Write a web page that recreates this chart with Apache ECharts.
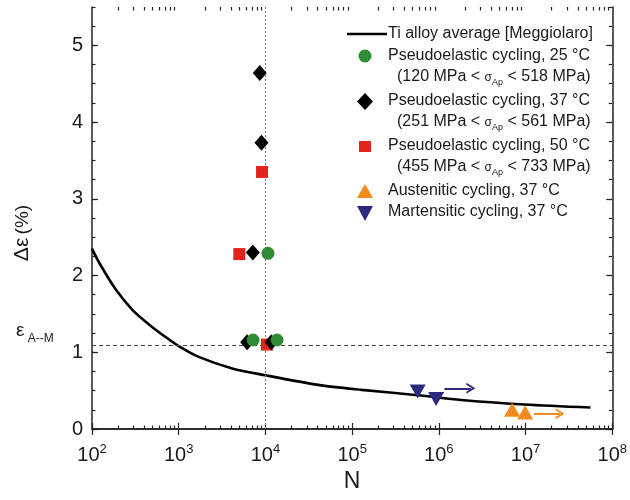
<!DOCTYPE html>
<html><head><meta charset="utf-8">
<script src="https://cdn.jsdelivr.net/npm/echarts@6/dist/echarts.min.js"></script>
<style>html,body{margin:0;padding:0;background:#fff}#c{width:630px;height:500px}</style>
</head><body><div id="c"></div>
<script>
// ---- data ----
const curveN = [100, 122, 190, 294, 457, 711, 1000, 1700, 4140, 10000, 40700, 129000, 575000, 1810000, 9660000, 56000000];
const curveY = [2.35, 2.16, 1.81, 1.55, 1.36, 1.196, 1.08, 0.94, 0.79, 0.70, 0.575, 0.51, 0.44, 0.378, 0.32, 0.28];

const pe25N = [10700, 7200, 13600];
const pe25Y = [2.29, 1.16, 1.16];
const pe37N = [8600, 9000, 7150, 6150, 11700];
const pe37Y = [4.64, 3.73, 2.30, 1.13, 1.13];
const pe50N = [9140, 5000, 10400];
const pe50Y = [3.35, 2.28, 1.10];
const austN = [7000000, 9900000];
const austY = [0.25, 0.215];
const martN = [570000, 930000];
const martY = [0.49, 0.39];

const martArrowN = [1160000, 2340000];
const martArrowY = 0.53;
const austArrowN = [12500000, 25000000];
const austArrowY = 0.20;

const refN = 10000;      // vertical dotted line
const refEps = 1.09;     // horizontal dashed line (eps A--M)

const xMajorExps = [2, 3, 4, 5, 6, 7, 8];
const xMinorMult = [2, 3, 4, 5, 6, 7, 8, 9];
const yTickLabels = [0, 1, 2, 3, 4, 5];

const legendTexts = [
  'Ti alloy average [Meggiolaro]',
  'Pseudoelastic cycling, 25 °C',
  '(120 MPa < {sg|σ}{sb|Ap} < 518 MPa)',
  'Pseudoelastic cycling, 37 °C',
  '(251 MPa < {sg|σ}{sb|Ap} < 561 MPa)',
  'Pseudoelastic cycling, 50 °C',
  '(455 MPa < {sg|σ}{sb|Ap} < 733 MPa)',
  'Austenitic cycling, 37 °C',
  'Martensitic cycling, 37 °C'
];

// ---- styles ----
const FONT = '"Liberation Sans", Arial, sans-serif';
const cGreen = '#2f8c35', cBlack = '#000000', cRed = '#e2231c', cOrange = '#f28a1d', cNavy = '#2b2a7c';
const axisCol = '#222';

const zip = (a, b) => a.map((v, i) => [v, b[i]]);
const minorTicks = [];
xMajorExps.slice(0, -1).forEach(e => xMinorMult.forEach(m => minorTicks.push(e + Math.log10(m))));

const chart = echarts.init(document.getElementById('c'), null, { renderer: 'canvas' });

const decoX = (pos, major, extra) => Object.assign({
  type: 'value', min: 2, max: 8, position: pos, gridIndex: 0,
  axisLine: { show: false },
  axisTick: major ? { show: true, inside: true, length: 6, lineStyle: { color: axisCol, width: 1.2 }, customValues: xMajorExps }
                  : { show: true, inside: true, length: 3.5, lineStyle: { color: axisCol, width: 1.2 }, customValues: minorTicks },
  axisLabel: { show: false },
  splitLine: { show: false }
}, extra || {});

const decoY = (pos, major, extra) => Object.assign({
  type: 'value', min: 0, max: 5.5, position: pos, gridIndex: 0,
  axisLine: { show: false },
  axisTick: major ? { show: true, inside: true, length: 6, lineStyle: { color: axisCol, width: 1.2 }, customValues: yTickLabels }
                  : { show: true, inside: true, length: 3.5, lineStyle: { color: axisCol, width: 1.2 } },
  interval: 0.25,
  axisLabel: { show: false },
  splitLine: { show: false }
}, extra || {});

const legendY = [34, 56, 77, 101, 122, 146, 167, 191, 212];
const legendX = [388, 388, 397, 388, 397, 388, 397, 388, 388];
const legendGraphics = [];
legendTexts.forEach((t, i) => {
  legendGraphics.push({
    type: 'text', x: legendX[i], y: legendY[i], z: 100,
    style: {
      text: t, fill: '#1a1a1a', fontSize: 16, fontFamily: FONT, verticalAlign: 'middle',
      rich: {
        sg: { fontSize: 12, fontFamily: FONT, fill: '#1a1a1a', padding: [2, 0, 0, 0] },
        sb: { fontSize: 9, fontFamily: FONT, fill: '#1a1a1a', padding: [12, 0, 0, 0] }
      }
    }
  });
});
legendGraphics.push(
  { type: 'line', z: 100, shape: { x1: 347, y1: 34, x2: 387, y2: 34 }, style: { stroke: '#000', lineWidth: 2.6 } },
  { type: 'circle', z: 100, shape: { cx: 365, cy: 56, r: 6.5 }, style: { fill: cGreen } },
  { type: 'polygon', z: 100, shape: { points: [[365, 93], [373, 101.5], [365, 110], [357, 101.5]] }, style: { fill: cBlack } },
  { type: 'rect', z: 100, shape: { x: 359, y: 141, width: 12, height: 11 }, style: { fill: cRed } },
  { type: 'polygon', z: 100, shape: { points: [[365, 184], [373, 198], [357, 198]] }, style: { fill: cOrange } },
  { type: 'polygon', z: 100, shape: { points: [[357, 206], [373, 206], [365, 221]] }, style: { fill: cNavy } },
  {
    type: 'text', x: 16, y: 331, z: 100,
    style: {
      text: '{e|ε}{s| A--M}', verticalAlign: 'middle', fill: '#1a1a1a',
      rich: {
        e: { fontSize: 19, fontFamily: FONT, fill: '#1a1a1a' },
        s: { fontSize: 12, fontFamily: FONT, fill: '#1a1a1a', padding: [16, 0, 0, 0] }
      }
    }
  }
);

const chevron = 'path://M10,0 L20,16 L16,16 L10,6 L4,16 L0,16 Z';

const option = {
  animation: false,
  backgroundColor: '#ffffff',
  textStyle: { fontFamily: FONT },
  grid: { left: 92, right: 15, top: 7, bottom: 71, containLabel: false },
  xAxis: [
    {
      type: 'log', logBase: 10, min: 100, max: 1e8, position: 'bottom', gridIndex: 0,
      axisLine: { show: true, lineStyle: { color: axisCol, width: 1.5 } },
      axisTick: { show: false }, axisLabel: { show: false }, splitLine: { show: false }
    },
    decoX('bottom', true, {
      axisLabel: {
        show: true, margin: 14, color: '#1a1a1a',
        formatter: v => '{b|10}{s|' + v + '}',
        rich: {
          b: { fontSize: 20, fontFamily: FONT, color: '#1a1a1a' },
          s: { fontSize: 13, fontFamily: FONT, color: '#1a1a1a', padding: [0, 0, 12, 0] }
        }
      },
      name: 'N', nameLocation: 'middle', nameGap: 34,
      nameTextStyle: { fontSize: 23, fontFamily: FONT, color: '#1a1a1a' }
    }),
    decoX('bottom', false),
    decoX('top', true, { axisLine: { show: true, lineStyle: { color: axisCol, width: 1.5 } } }),
    decoX('top', false)
  ],
  yAxis: [
    decoY('left', false, {
      axisLine: { show: true, lineStyle: { color: axisCol, width: 1.5 } },
      axisLabel: { show: true, customValues: yTickLabels, fontSize: 20, fontFamily: FONT, color: '#1a1a1a', margin: 9 },
      name: '{g|Δε} {p|(%)}', nameLocation: 'middle', nameGap: 59, nameRotate: 90,
      nameTextStyle: {
        padding: [0, 30, 0, 0],
        rich: {
          g: { fontSize: 21, fontFamily: FONT, color: '#1a1a1a' },
          p: { fontSize: 19, fontFamily: FONT, color: '#1a1a1a' }
        }
      }
    }),
    decoY('left', true),
    decoY('right', false, { axisLine: { show: true, lineStyle: { color: axisCol, width: 1.5 } } }),
    decoY('right', true)
  ],
  graphic: legendGraphics,
  series: [
    {
      name: 'Ti alloy average [Meggiolaro]', type: 'line', xAxisIndex: 0, yAxisIndex: 0,
      data: zip(curveN, curveY), smooth: 0.3, showSymbol: false, symbol: 'none',
      lineStyle: { color: '#000', width: 2.6 }, z: 3,
      markLine: {
        silent: true, symbol: ['none', 'none'], label: { show: false },
        data: [
          { xAxis: refN, lineStyle: { color: '#777', type: [2, 2], width: 1 } },
          { yAxis: refEps, lineStyle: { color: '#444', type: [4, 3], width: 1 } }
        ]
      }
    },
    {
      name: 'Martensitic arrow', type: 'line', xAxisIndex: 0, yAxisIndex: 0, data: [], z: 4,
      markLine: {
        silent: true, symbol: ['none', chevron], symbolSize: [11, 9], label: { show: false },
        lineStyle: { color: cNavy, width: 2, type: 'solid' },
        data: [
          [{ coord: [martArrowN[0], martArrowY] }, { coord: [martArrowN[1], martArrowY] }]
        ]
      }
    },
    {
      name: 'Austenitic arrow', type: 'line', xAxisIndex: 0, yAxisIndex: 0, data: [], z: 4,
      markLine: {
        silent: true, symbol: ['none', chevron], symbolSize: [11, 9], label: { show: false },
        lineStyle: { color: cOrange, width: 2, type: 'solid' },
        data: [
          [{ coord: [austArrowN[0], austArrowY] }, { coord: [austArrowN[1], austArrowY] }]
        ]
      }
    },
    {
      name: 'Pseudoelastic cycling, 50 °C', type: 'scatter', xAxisIndex: 0, yAxisIndex: 0,
      data: zip(pe50N, pe50Y), symbol: 'rect', symbolSize: [12, 12], itemStyle: { color: cRed, opacity: 1 }, z: 5
    },
    {
      name: 'Pseudoelastic cycling, 37 °C', type: 'scatter', xAxisIndex: 0, yAxisIndex: 0,
      data: zip(pe37N, pe37Y), symbol: 'diamond', symbolSize: [14, 16], itemStyle: { color: cBlack, opacity: 1 }, z: 6
    },
    {
      name: 'Pseudoelastic cycling, 25 °C', type: 'scatter', xAxisIndex: 0, yAxisIndex: 0,
      data: zip(pe25N, pe25Y), symbol: 'circle', symbolSize: 13, itemStyle: { color: cGreen, opacity: 1 }, z: 7
    },
    {
      name: 'Austenitic cycling, 37 °C', type: 'scatter', xAxisIndex: 0, yAxisIndex: 0,
      data: zip(austN, austY), symbol: 'triangle', symbolSize: [16, 14], itemStyle: { color: cOrange, opacity: 1 }, z: 7
    },
    {
      name: 'Martensitic cycling, 37 °C', type: 'scatter', xAxisIndex: 0, yAxisIndex: 0,
      data: zip(martN, martY), symbol: 'triangle', symbolRotate: 180, symbolSize: [16, 14], itemStyle: { color: cNavy, opacity: 1 }, z: 7
    }
  ]
};
chart.setOption(option);
</script>
</body></html>
